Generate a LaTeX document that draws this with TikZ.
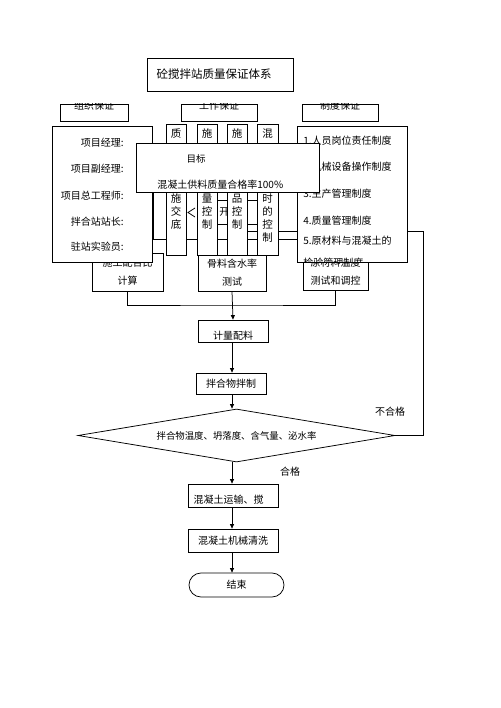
\documentclass[tikz,border=0pt]{standalone}
\usepackage{fontspec}
\setmainfont{Noto Sans CJK SC}
\usetikzlibrary{arrows.meta,shapes.geometric,shapes.misc}

\tikzset{every picture/.style={line width=0.75pt}}
\tikzset{
  box/.style={draw, fill=white, inner sep=0pt, align=center, font=\fontsize{10}{18}\selectfont},
  hidbox/.style={draw, inner sep=0pt},
  txt/.style={inner sep=0pt, font=\fontsize{10}{12}\selectfont},
  coltxt/.style={inner sep=0pt, align=center, anchor=north, font=\fontsize{10.5}{13.1}\selectfont},
  flow/.style={-{Triangle[length=4.5pt,width=4pt]}},
}

\begin{document}
\begin{tikzpicture}[x=1pt,y=1pt,yscale=-1,xscale=1]
\useasboundingbox (0,0) rectangle (500,708);

%Main axis
\coordinate (ax) at (232,0);

%Flow: lower part
\node[box, minimum width=70, minimum height=22] (meas) at (233,331) {};
\node[txt] (meast) at (233,336) {计量配料};
\node[box, minimum width=70, minimum height=21] (mix) at (231,383.5) {拌合物拌制};
\node[box, diamond, shape aspect=6, minimum width=317, minimum height=53, font=\fontsize{9.4}{11}\selectfont] (dia) at (236.5,435.5) {拌合物温度、坍落度、含气量、泌水率};
\node[box, minimum width=90, minimum height=23] (trans) at (233,495.5) {};
\node[txt] (transt) at (228.5,500) {混凝土运输、搅};
\node[box, minimum width=90, minimum height=23] (wash) at (233,540.5) {混凝土机械清洗};
\node[box, rounded rectangle, minimum width=95, minimum height=24] (endn) at (236.5,585) {结束};

\draw[flow] (ax |- meas.south) -- (ax |- mix.north);
\draw[flow] (ax |- mix.south) -- (ax |- dia.north);
\draw[flow] (ax |- dia.south) -- (ax |- trans.north);
\draw[flow] (ax |- trans.south) -- (ax |- wash.north);
\draw[flow] (ax |- wash.south) -- (ax |- endn.north);

\node[txt] (ok) at (290,472) {合格};
\node[txt] (ng) at (390,412) {不合格};

%Feedback line, runs behind the upper boxes
\coordinate (fbtop) at (423,231);
\coordinate (fbend) at (240,231);
\draw (dia.east) -| (fbtop) -- (fbend);

%Hidden boxes behind the columns
\node[hidbox, minimum width=147, minimum height=79] (hidA) at (226.5,199.5) {};
\node[hidbox, minimum width=60, minimum height=24] (hidB) at (235,212) {};
\node[txt, anchor=west] (hidBt) at (219,212) {开};
\draw (195,208) -- (188,212.5) -- (195,217);

%Three check boxes and the bus
\node[box, minimum width=71, minimum height=38] (ratio) at (127.5,272) {施工配合比\\计算};
\node[box, minimum width=68, minimum height=36] (aggr) at (232,273) {骨料含水率\\测试};
\node[box, minimum width=65, minimum height=37] (raw) at (335.5,271.5) {原材料温度\\测试和调控};
\coordinate (bus) at (232,305);
\draw (ratio.south) |- (bus) -| (raw.south);
\draw[flow] (aggr.south) -- (meas.north);

%Shape: Columns of the work guarantee
\node[box, minimum width=20, minimum height=131] (col1) at (176,189.5) {};
\node[box, minimum width=20, minimum height=131] (col2) at (207,189.5) {};
\node[box, minimum width=20, minimum height=131] (col3) at (237,189.5) {};
\node[box, minimum width=21, minimum height=131] (col4) at (267.5,189.5) {};
\node[coltxt] (col1a) at (176,128) {质};
\node[coltxt] (col2a) at (207,128) {施};
\node[coltxt] (col3a) at (237,128) {施};
\node[coltxt] (col4a) at (267.5,128) {混};
\node[coltxt] (col1b) at (176,193.5) {施\\交\\底};
\node[coltxt] (col2b) at (207,193.5) {量\\控\\制};
\node[coltxt] (col3b) at (237,193.5) {品\\控\\制};
\node[coltxt] (col4b) at (267.5,193.5) {时\\的\\控\\制};

%Shape: Organisation box
\node[box, minimum width=100, minimum height=136] (org) at (102,194) {};
\node[txt, anchor=east] (org1) at (124,143) {项目经理:};
\node[txt, anchor=east] (org2) at (124,169) {项目副经理:};
\node[txt, anchor=east] (org3) at (124,196) {项目总工程师:};
\node[txt, anchor=east] (org4) at (124,222) {拌合站站长:};
\node[txt, anchor=east] (org5) at (124,247) {驻站实验员:};

%Shape: Rules box
\node[box, minimum width=110, minimum height=136] (rule) at (352,194) {};
\node[txt, anchor=west] (rule1) at (303,141) {1.人员岗位责任制度};
\node[txt, anchor=west] (rule2) at (303,167) {2.机械设备操作制度};
\node[txt, anchor=west] (rule3) at (303,194) {3.生产管理制度};
\node[txt, anchor=west] (rule4) at (303,221) {4.质量管理制度};
\node[txt, anchor=west] (rule5) at (303,241) {5.原材料与混凝土的};
\begin{scope}
\clip (rule.south west) rectangle (rule.north east);
\node[txt, anchor=west] (rule6) at (303,263) {检验管理制度};
\end{scope}

%Shape: Target box
\node[box, minimum width=183, minimum height=49] (goal) at (227.5,167.5) {};
\node[txt, font=\fontsize{9.5}{11}\selectfont] (goal1) at (196,159) {目标};
\node[txt, anchor=west] (goal2) at (157,185) {混凝土供料质量合格率100\%};

%Shape: Header boxes
\node[box, minimum width=68, minimum height=17] (hdrL) at (94,112.5) {};
\node[box, minimum width=76, minimum height=17] (hdrM) at (219,112.5) {};
\node[box, minimum width=76, minimum height=17] (hdrR) at (340,112.5) {};
\begin{scope}
\clip (hdrL.south west) rectangle (hdrL.north east);
\node[txt] (hdrLt) at ([yshift=-7pt]hdrL.center) {组织保证};
\end{scope}
\begin{scope}
\clip (hdrM.south west) rectangle (hdrM.north east);
\node[txt] (hdrMt) at ([yshift=-7pt]hdrM.center) {工作保证};
\end{scope}
\begin{scope}
\clip (hdrR.south west) rectangle (hdrR.north east);
\node[txt] (hdrRt) at ([yshift=-7pt]hdrR.center) {制度保证};
\end{scope}

%Shape: Title
\node[box, minimum width=146, minimum height=33] (title) at (220,74.5) {};
\node[txt, font=\fontsize{11.5}{13}\selectfont] (titlet) at (214,74) {砼搅拌站质量保证体系};

\end{tikzpicture}
\end{document}
